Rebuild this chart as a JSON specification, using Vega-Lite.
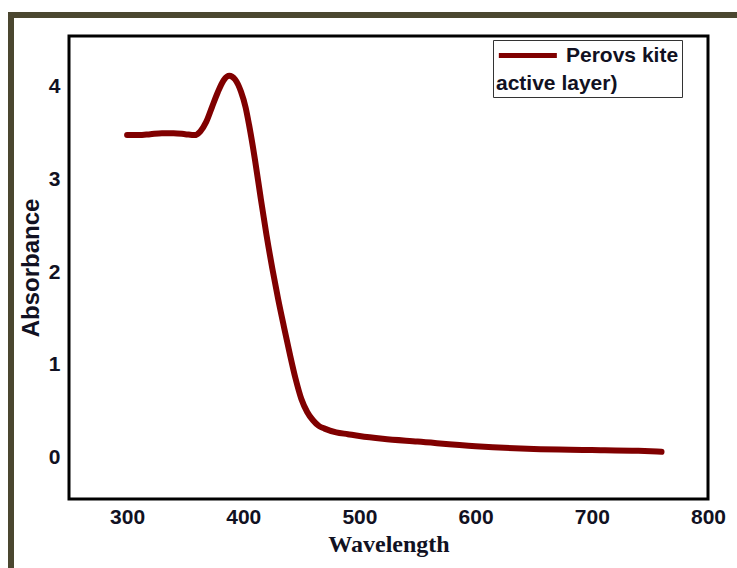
{
  "$schema": "https://vega.github.io/schema/vega-lite/v6.json",
  "width": 639,
  "height": 463,
  "autosize": {"type": "none"},
  "padding": {"left": 69, "top": 36, "right": 29, "bottom": 69},
  "background": "white",
  "config": {
    "view": {"stroke": "black", "strokeWidth": 3},
    "axis": {
      "domain": false,
      "ticks": false,
      "grid": false,
      "labelFlush": false,
      "labelFont": "Liberation Sans",
      "labelFontWeight": "bold",
      "labelFontSize": 21,
      "labelColor": "#111122"
    }
  },
  "data": {
    "values": [
      {"wavelength": 300, "absorbance": 3.48, "series": "Perovs kite"},
      {"wavelength": 310, "absorbance": 3.48, "series": "Perovs kite"},
      {"wavelength": 320, "absorbance": 3.49, "series": "Perovs kite"},
      {"wavelength": 330, "absorbance": 3.50, "series": "Perovs kite"},
      {"wavelength": 340, "absorbance": 3.50, "series": "Perovs kite"},
      {"wavelength": 350, "absorbance": 3.49, "series": "Perovs kite"},
      {"wavelength": 358, "absorbance": 3.48, "series": "Perovs kite"},
      {"wavelength": 363, "absorbance": 3.52, "series": "Perovs kite"},
      {"wavelength": 368, "absorbance": 3.62, "series": "Perovs kite"},
      {"wavelength": 373, "absorbance": 3.78, "series": "Perovs kite"},
      {"wavelength": 378, "absorbance": 3.94, "series": "Perovs kite"},
      {"wavelength": 383, "absorbance": 4.07, "series": "Perovs kite"},
      {"wavelength": 388, "absorbance": 4.12, "series": "Perovs kite"},
      {"wavelength": 393, "absorbance": 4.08, "series": "Perovs kite"},
      {"wavelength": 398, "absorbance": 3.95, "series": "Perovs kite"},
      {"wavelength": 402, "absorbance": 3.78, "series": "Perovs kite"},
      {"wavelength": 405, "absorbance": 3.59, "series": "Perovs kite"},
      {"wavelength": 410, "absorbance": 3.22, "series": "Perovs kite"},
      {"wavelength": 415, "absorbance": 2.80, "series": "Perovs kite"},
      {"wavelength": 420, "absorbance": 2.40, "series": "Perovs kite"},
      {"wavelength": 425, "absorbance": 2.04, "series": "Perovs kite"},
      {"wavelength": 430, "absorbance": 1.71, "series": "Perovs kite"},
      {"wavelength": 435, "absorbance": 1.41, "series": "Perovs kite"},
      {"wavelength": 440, "absorbance": 1.12, "series": "Perovs kite"},
      {"wavelength": 445, "absorbance": 0.85, "series": "Perovs kite"},
      {"wavelength": 450, "absorbance": 0.63, "series": "Perovs kite"},
      {"wavelength": 455, "absorbance": 0.49, "series": "Perovs kite"},
      {"wavelength": 460, "absorbance": 0.40, "series": "Perovs kite"},
      {"wavelength": 465, "absorbance": 0.34, "series": "Perovs kite"},
      {"wavelength": 470, "absorbance": 0.31, "series": "Perovs kite"},
      {"wavelength": 480, "absorbance": 0.27, "series": "Perovs kite"},
      {"wavelength": 490, "absorbance": 0.25, "series": "Perovs kite"},
      {"wavelength": 500, "absorbance": 0.23, "series": "Perovs kite"},
      {"wavelength": 520, "absorbance": 0.20, "series": "Perovs kite"},
      {"wavelength": 550, "absorbance": 0.17, "series": "Perovs kite"},
      {"wavelength": 600, "absorbance": 0.12, "series": "Perovs kite"},
      {"wavelength": 650, "absorbance": 0.09, "series": "Perovs kite"},
      {"wavelength": 700, "absorbance": 0.08, "series": "Perovs kite"},
      {"wavelength": 740, "absorbance": 0.07, "series": "Perovs kite"},
      {"wavelength": 760, "absorbance": 0.06, "series": "Perovs kite"}
    ]
  },
  "layer": [
    {
      "mark": {"type": "rect", "filled": false, "stroke": "#4b4730", "strokeWidth": 5, "clip": false},
      "encoding": {
        "x": {"datum": 200, "type": "quantitative", "scale": {"domain": [250, 800], "nice": false}},
        "x2": {"datum": 900},
        "y": {"datum": 4.78, "type": "quantitative", "scale": {"domain": [-0.45, 4.55], "nice": false, "zero": false}},
        "y2": {"datum": -1.5}
      }
    },
    {
      "mark": {"type": "line", "strokeWidth": 6, "strokeCap": "round", "strokeJoin": "round", "interpolate": "monotone"},
      "encoding": {
        "x": {
          "field": "wavelength",
          "type": "quantitative",
          "scale": {"domain": [250, 800], "nice": false},
          "axis": {
            "title": "Wavelength",
            "values": [300, 400, 500, 600, 700, 800],
            "format": "d",
            "labelPadding": 7,
            "titleFont": "Liberation Serif",
            "titleFontWeight": "bold",
            "titleFontSize": 24,
            "titleColor": "#111122",
            "titlePadding": 5
          }
        },
        "y": {
          "field": "absorbance",
          "type": "quantitative",
          "scale": {"domain": [-0.45, 4.55], "nice": false, "zero": false},
          "axis": {
            "title": "Absorbance",
            "values": [0, 1, 2, 3, 4],
            "format": "d",
            "labelPadding": 9,
            "titleFont": "Liberation Sans",
            "titleFontWeight": "bold",
            "titleFontSize": 24,
            "titleColor": "#111122",
            "titlePadding": 5
          }
        },
        "color": {
          "field": "series",
          "type": "nominal",
          "scale": {"range": ["#800000"]},
          "legend": {
            "orient": "none",
            "legendX": 424,
            "legendY": 4,
            "title": "active layer)",
            "titleOrient": "bottom",
            "titleFont": "Liberation Sans",
            "titleFontWeight": "bold",
            "titleFontSize": 21,
            "titleColor": "#111122",
            "titlePadding": 7,
            "labelFont": "Liberation Sans",
            "labelFontWeight": "bold",
            "labelFontSize": 21,
            "labelColor": "#111122",
            "labelOffset": 45,
            "symbolType": "M-1,0H5",
            "symbolSize": 374,
            "symbolStrokeWidth": 5,
            "strokeColor": "#333333",
            "fillColor": "white",
            "padding": 3,
            "cornerRadius": 0
          }
        }
      }
    }
  ]
}
